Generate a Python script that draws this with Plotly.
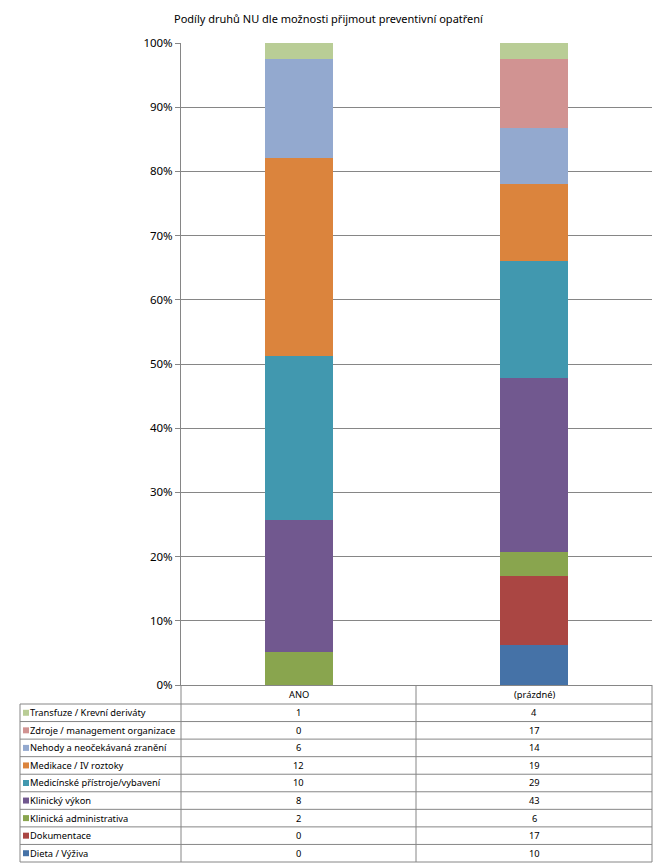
import plotly.graph_objects as go

categories = ["ANO", "(prázdné)"]
series_names = [
    "Dieta / Výživa",
    "Dokumentace",
    "Klinická administrativa",
    "Klinický výkon",
    "Medicínské přístroje/vybavení",
    "Medikace / IV roztoky",
    "Nehody a neočekávaná zranění",
    "Zdroje / management organizace",
    "Transfuze / Krevní deriváty",
]
ano_values = [0, 0, 2, 8, 10, 12, 6, 0, 1]
prazdne_values = [10, 17, 6, 43, 29, 19, 14, 17, 4]
colors = ["#4572A7", "#AA4643", "#89A54E", "#71588F", "#4198AF",
          "#DB843D", "#93A9CF", "#D19392", "#B9CD96"]
y_ticks = [0, 10, 20, 30, 40, 50, 60, 70, 80, 90, 100]
y_tick_labels = [f"{t}%" for t in y_ticks]
title = "Podíly druhů NU dle možnosti přijmout preventivní opatření"

W, H = 667, 866
L = 181
T = 43
B = H - 685
R = W - 652
plot_h = H - T - B
plot_w = W - L - R

def px(x):
    return (x - L) / plot_w

def py(y):
    return (H - B - y) / plot_h

fig = go.Figure()
for name, a, p, c in zip(series_names, ano_values, prazdne_values, colors):
    fig.add_trace(go.Bar(x=categories, y=[a, p], name=name, marker_color=c,
                         marker_line_width=0, showlegend=False))

font = "Noto Sans, sans-serif"
grid = "#868686"

shapes = []
annotations = []

def hline(y, x0, x1):
    shapes.append(dict(type="line", xref="paper", yref="paper",
                       x0=px(x0), x1=px(x1), y0=py(y), y1=py(y),
                       line=dict(color=grid, width=1)))

def vline(x, y0, y1):
    shapes.append(dict(type="line", xref="paper", yref="paper",
                       x0=px(x), x1=px(x), y0=py(y0), y1=py(y1),
                       line=dict(color=grid, width=1)))

tbl_left, tbl_axis, tbl_mid, tbl_right = 20, 181, 416, 652
head_top, head_bot, tbl_bot = 685, 704, 862
row_h = (tbl_bot - head_bot) / len(series_names)

hline(head_bot, tbl_left, tbl_right)
for i in range(1, len(series_names) + 1):
    hline(head_bot + i * row_h, tbl_left, tbl_right)
vline(tbl_left, head_bot, tbl_bot)
vline(tbl_axis, head_top, tbl_bot)
vline(tbl_mid, head_top, tbl_bot)
vline(tbl_right, head_top, tbl_bot)

tfont = dict(family=font, size=9.3, color="#000")

# header
for cat, cx in zip(categories, [(tbl_axis + tbl_mid) / 2, (tbl_mid + tbl_right) / 2]):
    annotations.append(dict(x=px(cx), y=py((head_top + head_bot) / 2), xref="paper", yref="paper",
                            text=cat, showarrow=False, font=tfont,
                            xanchor="center", yanchor="middle"))

# rows, top row = last series
rows = list(zip(series_names, ano_values, prazdne_values, colors))[::-1]
for i, (name, a, p, c) in enumerate(rows):
    yc = head_bot + (i + 0.5) * row_h
    shapes.append(dict(type="rect", xref="paper", yref="paper",
                       x0=px(23), x1=px(29), y0=py(yc - 3), y1=py(yc + 3),
                       fillcolor=c, line=dict(width=0)))
    annotations.append(dict(x=px(28), y=py(yc), xref="paper", yref="paper",
                            text=name, showarrow=False, font=tfont,
                            xanchor="left", yanchor="middle"))
    annotations.append(dict(x=px((tbl_axis + tbl_mid) / 2), y=py(yc), xref="paper", yref="paper",
                            text=str(a), showarrow=False, font=tfont,
                            xanchor="center", yanchor="middle"))
    annotations.append(dict(x=px((tbl_mid + tbl_right) / 2), y=py(yc), xref="paper", yref="paper",
                            text=str(p), showarrow=False, font=tfont,
                            xanchor="center", yanchor="middle"))

annotations.append(dict(x=px(329), y=py(19), xref="paper", yref="paper", text=title,
                        showarrow=False, font=dict(family=font, size=11, color="#000"),
                        xanchor="center", yanchor="middle"))

fig.update_layout(
    width=W, height=H,
    margin=dict(l=L, r=R, t=T, b=B, autoexpand=False),
    barmode="stack", barnorm="percent", bargap=0.71,
    plot_bgcolor="white", paper_bgcolor="white",
    shapes=shapes, annotations=annotations,
    xaxis=dict(showticklabels=False, showgrid=False, zeroline=False,
               showline=True, linecolor=grid, linewidth=1, ticks=""),
    yaxis=dict(range=[0, 100], tickvals=y_ticks, ticktext=y_tick_labels,
               showgrid=True, gridcolor=grid, gridwidth=1, zeroline=False,
               showline=True, linecolor=grid, linewidth=1, ticks="outside",
               ticklen=5, tickcolor=grid,
               tickfont=dict(family=font, size=11.5, color="#000")),
    font=dict(family=font),
)

fig.write_html("out.html",
               config={"displayModeBar": False},
               post_script="document.body.style.margin='0';document.body.style.overflow='hidden';")
